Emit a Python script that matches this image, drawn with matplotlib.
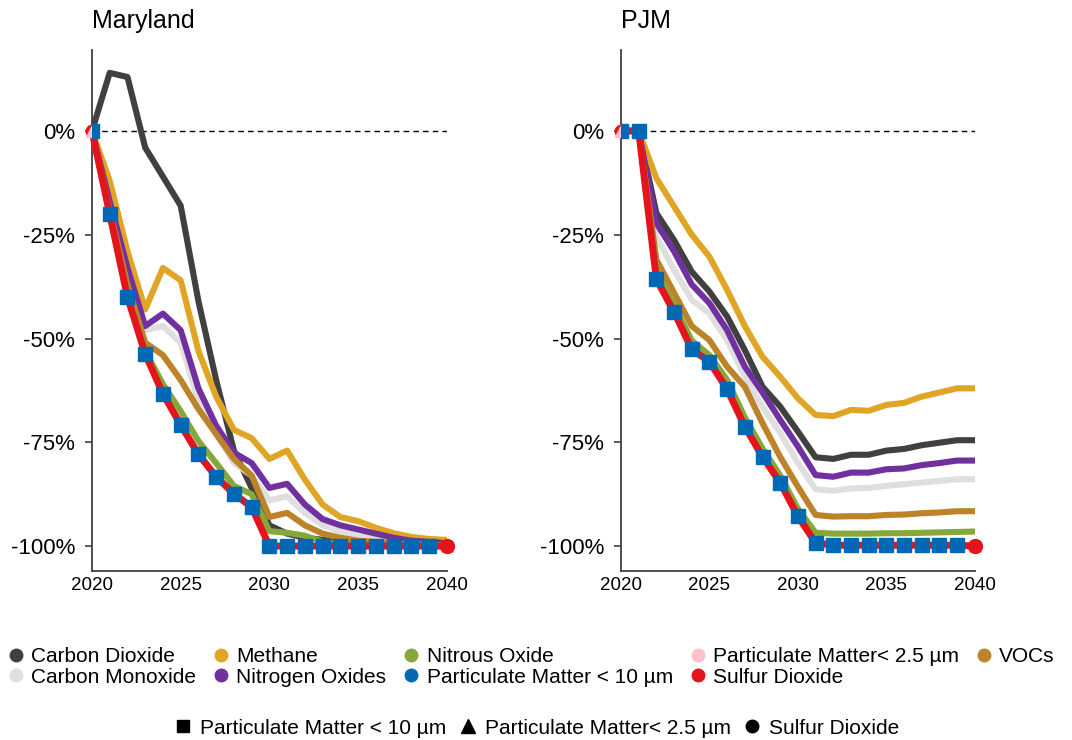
import matplotlib
matplotlib.use("Agg")
import matplotlib.pyplot as plt
from matplotlib.lines import Line2D

plt.rcParams['font.family'] = ['Liberation Sans', 'DejaVu Sans']
plt.rcParams['axes.unicode_minus'] = False

years = list(range(2020, 2041))

# Maryland: % change in emissions vs 2020
md_co2 = [0, 14, 13, -4, -11, -18, -41, -60, -77, -86, -95, -97, -98, -98.5, -99, -99.3, -99.5, -99.7, -99.8, -99.9, -100]
md_co = [0, -18, -35, -48, -47, -51, -65, -73, -80, -83, -89, -88, -92, -95, -96.5, -97.5, -98, -98.7, -99, -99.3, -99.5]
md_ch4 = [0, -12, -29, -43, -33, -36, -53, -64, -72, -74, -79, -77, -84, -90, -93, -94, -95.6, -96.9, -97.8, -98.3, -98.5]
md_nox = [0, -17, -33, -47, -44, -48, -62, -71, -77.5, -80, -86, -85, -90, -93.5, -95, -96, -97, -98, -98.7, -99, -99.3]
md_n2o = [0, -20, -39, -53, -61, -67.5, -74.7, -80, -85.5, -87.5, -96.4, -96.8, -97.5, -99, -99.5, -100, -100, -100, -100, -100, -100]
md_voc = [0, -19, -37, -51, -54, -60, -67, -73, -79, -83, -93, -92, -95, -97, -98, -98.7, -99, -99.3, -99.5, -99.7, -99.8]
md_so2 = [0, -20, -40, -53.7, -63.3, -70.8, -77.9, -83.3, -87.4, -90.6, -100, -100, -100, -100, -100, -100, -100, -100, -100, -100, -100]
md_pm10 = md_so2
md_pm25 = md_so2

# PJM: % change in emissions vs 2020
pjm_co2 = [0, 0, -19.8, -26.3, -33.9, -38.7, -44.7, -52.8, -61.6, -66.4, -72.4, -78.6, -79, -78, -78, -77, -76.6, -75.7, -75.1, -74.5, -74.5]
pjm_co = [0, 0, -25.5, -33.5, -40.7, -44, -50.4, -59.2, -66.4, -72.8, -80, -86.3, -86.7, -86.1, -86, -85.5, -85.1, -84.7, -84.3, -83.9, -83.9]
pjm_ch4 = [0, 0, -11.4, -18.2, -25, -30.3, -38.3, -47, -54.4, -59.2, -64.4, -68.4, -68.7, -67.2, -67.4, -66, -65.5, -64, -63, -62, -62]
pjm_nox = [0, 0, -22.2, -29, -37, -41.5, -48, -56.8, -63, -69.6, -76, -82.9, -83.3, -82.3, -82.3, -81.5, -81.3, -80.5, -80, -79.4, -79.4]
pjm_n2o = [0, 0, -34, -42, -50.5, -54, -60, -69, -76.5, -83, -91, -96.8, -97, -97, -97, -96.9, -96.9, -96.8, -96.7, -96.6, -96.5]
pjm_voc = [0, 0, -31, -39, -47, -50.4, -56.8, -61.6, -70.4, -78.5, -85.7, -92.5, -92.9, -92.8, -92.8, -92.5, -92.4, -92.1, -91.9, -91.6, -91.6]
pjm_so2 = [0, 0, -35.7, -43.6, -52.6, -55.6, -62.2, -71.2, -78.5, -84.7, -92.8, -99.2, -99.8, -99.8, -99.8, -99.8, -99.8, -99.8, -99.8, -99.8, -100]
pjm_pm10 = pjm_so2
pjm_pm25 = pjm_so2

names = ["Carbon Dioxide", "Carbon Monoxide", "Methane", "Nitrogen Oxides", "Nitrous Oxide",
         "Particulate Matter < 10 µm", "Particulate Matter< 2.5 µm", "Sulfur Dioxide", "VOCs"]
colors = ["#404040", "#E0DFE0", "#E0A524", "#7030A0", "#86A83A",
          "#0068B5", "#FFC0CB", "#E3141B", "#BC8328"]

yticks = [0, -25, -50, -75, -100]
ytick_labels = ["0%", "-25%", "-50%", "-75%", "-100%"]
xticks = [2020, 2025, 2030, 2035, 2040]

fig = plt.figure(figsize=(10.72, 7.40), dpi=100)
ax1 = fig.add_axes([0.0858, 0.2284, 0.331, 0.704])
ax2 = fig.add_axes([0.5793, 0.2284, 0.330, 0.704])


def draw_panel(ax, title, co2, co, ch4, nox, n2o, voc, so2, pm10, pm25):
    lw = 4.4
    ax.axhline(0, color="black", lw=1.0, ls=(0, (4, 3)), zorder=1)
    ax.plot(years, co2, color=colors[0], lw=lw, zorder=2)
    ax.plot(years, co, color=colors[1], lw=lw, zorder=3)
    ax.plot(years, ch4, color=colors[2], lw=lw, zorder=4)
    ax.plot(years, nox, color=colors[3], lw=lw, zorder=5)
    ax.plot(years, voc, color=colors[8], lw=lw, zorder=6)
    ax.plot(years, n2o, color=colors[4], lw=lw, zorder=7)
    ax.plot(years, so2, color=colors[7], lw=5, marker="o", ms=9,
            zorder=8, clip_on=False)
    ax.plot(years, pm25, color=colors[6], ls="none", marker="^", ms=8,
            zorder=9, clip_on=False)
    ax.plot(years[:-1], pm10[:-1], color=colors[5], ls="none", marker="s", ms=10,
            zorder=10)
    # last point of the sulfur series sits on top
    ax.plot(years[-1:], so2[-1:], color=colors[7], ls="none", marker="o", ms=10,
            zorder=11, clip_on=False)

    ax.set_xlim(2020, 2040)
    ax.set_ylim(-106, 19.5)
    ax.set_yticks(yticks)
    ax.set_yticklabels(ytick_labels, fontsize=16)
    ax.set_xticks(xticks)
    ax.set_xticklabels([str(x) for x in xticks], fontsize=13.5)
    ax.tick_params(axis="x", length=0, pad=4)
    ax.tick_params(axis="y", length=5, width=1.2, color="#404040", pad=7)
    for s in ["top", "right"]:
        ax.spines[s].set_visible(False)
    for s in ["left", "bottom"]:
        ax.spines[s].set_color("#404040")
        ax.spines[s].set_linewidth(1.3)
    ax.set_title(title, fontsize=18, loc="left", x=0.0, pad=16)


draw_panel(ax1, "Maryland", md_co2, md_co, md_ch4, md_nox, md_n2o, md_voc, md_so2, md_pm10, md_pm25)
draw_panel(ax2, "PJM", pjm_co2, pjm_co, pjm_ch4, pjm_nox, pjm_n2o, pjm_voc, pjm_so2, pjm_pm10, pjm_pm25)

# color legend
handles = [Line2D([], [], ls="none", marker="o", ms=9, color=c) for c in colors]
fig.legend(handles, names, ncol=5, loc="upper left", bbox_to_anchor=(0.001, 0.137),
           frameon=False, fontsize=15, handlelength=0.6, handletextpad=0.45,
           columnspacing=0.88, labelspacing=0.08, borderaxespad=0)

# marker legend
mhandles = [Line2D([], [], ls="none", marker="s", ms=9, color="black"),
            Line2D([], [], ls="none", marker="^", ms=10, color="black"),
            Line2D([], [], ls="none", marker="o", ms=9, color="black")]
fig.legend(mhandles, ["Particulate Matter < 10 µm", "Particulate Matter< 2.5 µm", "Sulfur Dioxide"],
           ncol=3, loc="center", bbox_to_anchor=(0.502, 0.016), frameon=False, fontsize=15,
           handlelength=0.6, handletextpad=0.5, columnspacing=0.75, borderaxespad=0)

fig.savefig("out.png", dpi=100)
